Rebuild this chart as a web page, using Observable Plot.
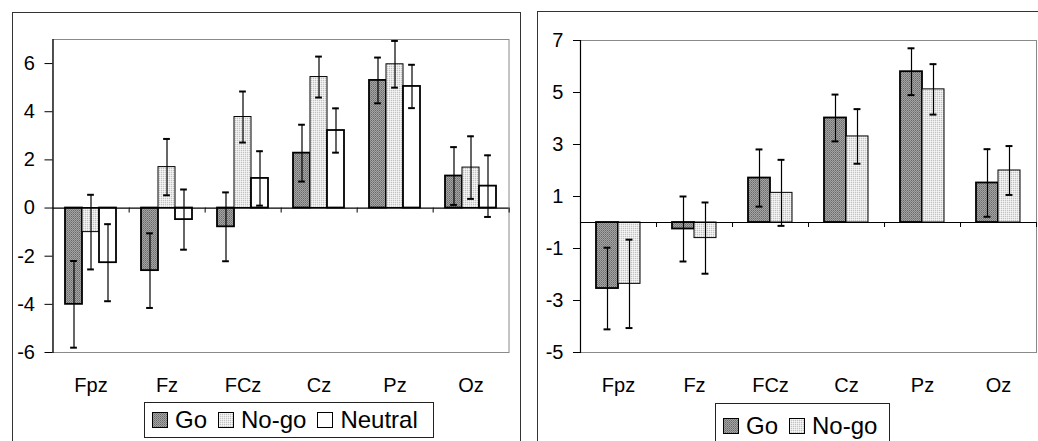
<!DOCTYPE html>
<html><head><meta charset="utf-8">
<script src="https://cdn.jsdelivr.net/npm/d3@7"></script>
<script src="https://cdn.jsdelivr.net/npm/@observablehq/plot@0.6"></script>
<style>
html,body{margin:0;padding:0;background:#fff;overflow:hidden}
#wrap{position:relative;width:1038px;height:441px;overflow:hidden;font-family:"Liberation Sans",Arial,sans-serif}
.panel{position:absolute;border:1px solid #333;background:#fff;box-sizing:border-box}
.chart{position:absolute;top:0}
.legend{position:absolute;border:1px solid #222;background:#fff;display:flex;align-items:center;font-size:24px;color:#000;padding-left:7px;box-sizing:border-box;white-space:nowrap}
.legend .item{display:flex;align-items:center;margin-right:11px}
.legend svg{margin-right:7px}
</style></head><body>
<svg width="0" height="0" style="position:absolute">
 <defs>
  <pattern id="stipDark" width="2" height="2" patternUnits="userSpaceOnUse">
   <rect width="2" height="2" fill="#a4a4a4"/><rect width="1" height="1" fill="#6a6a6a"/><rect x="1" y="1" width="1" height="1" fill="#808080"/>
  </pattern>
  <pattern id="stipLight" width="2" height="2" patternUnits="userSpaceOnUse">
   <rect width="2" height="2" fill="#e8e8e8"/><rect width="1" height="1" fill="#c2c2c2"/><rect x="1" y="1" width="1" height="1" fill="#f6f6f6"/>
  </pattern>
 </defs>
</svg>
<div id="wrap">
 <div class="panel" style="left:12px;top:12px;width:509px;height:440px"></div>
 <div class="panel" style="left:537px;top:11px;width:520px;height:440px"></div>
 <div id="left" class="chart" style="left:0px"></div>
 <div id="right" class="chart" style="left:521px"></div>
 <div id="legLeft" class="legend" style="left:144px;top:402px;width:290px;height:36px"></div>
 <div id="legRight" class="legend" style="left:715px;top:403px;width:175px;height:45px"></div>
</div>
<script>
// ---- data ----
const categories = ["Fpz", "Fz", "FCz", "Cz", "Pz", "Oz"];
const seriesLeft = ["Go", "No-go", "Neutral"];
const seriesRight = ["Go", "No-go"];

const goLeft       = [-4.0, -2.6, -0.78, 2.28, 5.3, 1.33];
const goLeftErr    = [1.8, 1.55, 1.43, 1.18, 0.95, 1.2];
const nogoLeft     = [-1.0, 1.7, 3.78, 5.44, 5.97, 1.68];
const nogoLeftErr  = [1.55, 1.17, 1.06, 0.85, 0.97, 1.3];
const neutralLeft    = [-2.27, -0.48, 1.23, 3.22, 5.05, 0.91];
const neutralLeftErr = [1.6, 1.25, 1.13, 0.92, 0.9, 1.28];

const goRight      = [-2.54, -0.25, 1.71, 4.02, 5.8, 1.52];
const goRightErr   = [1.57, 1.25, 1.1, 0.9, 0.9, 1.3];
const nogoRight    = [-2.36, -0.6, 1.14, 3.31, 5.12, 2.0];
const nogoRightErr = [1.7, 1.37, 1.27, 1.05, 0.97, 0.94];

const yTicksLeft = [-6, -4, -2, 0, 2, 4, 6];
const yTicksRight = [-5, -3, -1, 1, 3, 5, 7];

const fillBySeries = {"Go": "url(#stipDark)", "No-go": "url(#stipLight)", "Neutral": "#ffffff"};

function makeChart({series, values, errors, yDomain, yTicks, width, height, marginLeft, marginRight, marginTop, marginBottom, tickSize, tickPadding}) {
  const data = [];
  categories.forEach((c, i) => series.forEach((s, j) =>
    data.push({cat: c, series: s, value: values[j][i], err: errors[j][i]})));
  const n = series.length;
  const gapRatio = 1.45;
  const pIn = gapRatio / (n + gapRatio), pOut = pIn / 2;
  const step = (width - marginLeft - marginRight) / categories.length;
  const outer = step * pOut;
  const barW = step * (1 - pIn) / n;
  const capInset = (barW - 7) / 2;
  return Plot.plot({
    width, height, marginLeft, marginRight, marginTop, marginBottom,
    style: {fontFamily: "'Liberation Sans', Arial, sans-serif", fontSize: "20px", color: "#000", background: "transparent"},
    fx: {domain: categories, paddingInner: pIn, paddingOuter: pOut, label: null, axis: "bottom", tickSize: 0, tickPadding: 25},
    x: {domain: series, padding: 0, axis: null},
    y: {domain: yDomain},
    color: {domain: series, range: series.map(s => fillBySeries[s])},
    marks: [
      Plot.frame({facet: "super", stroke: "#8a8a8a", insetLeft: -outer, insetRight: -outer}),
      Plot.barY(data, {fx: "cat", x: "series", y: "value", fill: "series", stroke: "#000",
        strokeWidth: d => d.series === "No-go" ? 1 : 1.8}),
      Plot.ruleY([0], {stroke: "#000", strokeWidth: 1.2, insetLeft: -outer, insetRight: -outer}),
      Plot.ruleX([series[n - 1]], {x: d => d, y1: 0, y2: 0, dx: barW / 2 + outer, insetBottom: -5, stroke: "#000"}),
      Plot.ruleX(data, {fx: "cat", x: "series", y1: d => d.value - d.err, y2: d => d.value + d.err, stroke: "#000", strokeWidth: 1.2}),
      Plot.tickY(data, {fx: "cat", x: "series", y: d => d.value + d.err, insetLeft: capInset, insetRight: capInset, stroke: "#000", strokeWidth: 2}),
      Plot.tickY(data, {fx: "cat", x: "series", y: d => d.value - d.err, insetLeft: capInset, insetRight: capInset, stroke: "#000", strokeWidth: 2}),
      Plot.frame({facet: "super", anchor: "left", stroke: "#000", strokeWidth: 1.2, insetLeft: -outer, insetRight: -outer}),
      Plot.axisY({ticks: yTicks, tickSize, tickPadding, dx: -outer, label: null, tickFormat: d => String(d)})
    ]
  });
}

document.getElementById("left").append(makeChart({
  series: seriesLeft,
  values: [goLeft, nogoLeft, neutralLeft],
  errors: [goLeftErr, nogoLeftErr, neutralLeftErr],
  yDomain: [-6, 7], yTicks: yTicksLeft,
  width: 521, height: 400, marginLeft: 50, marginRight: 10, marginTop: 39, marginBottom: 48,
  tickSize: 8, tickPadding: 10
}));

document.getElementById("right").append(makeChart({
  series: seriesRight,
  values: [goRight, nogoRight],
  errors: [goRightErr, nogoRightErr],
  yDomain: [-5, 7], yTicks: yTicksRight,
  width: 517, height: 400, marginLeft: 59, marginRight: 1, marginTop: 40, marginBottom: 48,
  tickSize: 7, tickPadding: 10
}));

function legend(el, series) {
  for (const s of series) {
    const item = document.createElement("div");
    item.className = "item";
    item.innerHTML = `<svg width="16" height="16"><rect x="0.5" y="0.5" width="15" height="15" fill="${fillBySeries[s]}" stroke="#000"/></svg><span>${s}</span>`;
    el.append(item);
  }
}
legend(document.getElementById("legLeft"), seriesLeft);
legend(document.getElementById("legRight"), seriesRight);
</script>
</body></html>
